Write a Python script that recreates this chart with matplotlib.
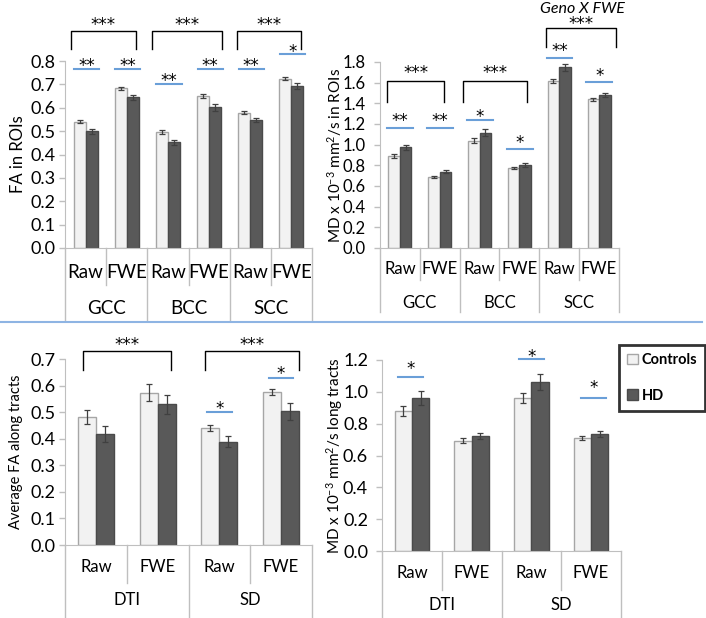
import matplotlib
matplotlib.use('Agg')
import matplotlib.pyplot as plt
import matplotlib.transforms as mtransforms
from matplotlib.lines import Line2D
from matplotlib.patches import Patch
import numpy as np

plt.rcParams['font.family'] = ['Lato', 'DejaVu Sans']
plt.rcParams['mathtext.default'] = 'regular'

# ---- data ----
sub_labels = ['Raw', 'FWE']
roi_groups = ['GCC', 'BCC', 'SCC']
tract_groups = ['DTI', 'SD']

fa_roi_ctrl = [0.540, 0.683, 0.496, 0.649, 0.579, 0.725]
fa_roi_hd = [0.500, 0.644, 0.452, 0.602, 0.547, 0.694]
fa_roi_ctrl_err = [0.007, 0.007, 0.008, 0.008, 0.006, 0.005]
fa_roi_hd_err = [0.011, 0.012, 0.012, 0.015, 0.010, 0.014]

md_roi_ctrl = [0.890, 0.690, 1.040, 0.775, 1.620, 1.440]
md_roi_hd = [0.975, 0.740, 1.115, 0.805, 1.750, 1.480]
md_roi_ctrl_err = [0.015, 0.008, 0.025, 0.010, 0.020, 0.015]
md_roi_hd_err = [0.025, 0.012, 0.035, 0.018, 0.035, 0.022]

fa_tr_ctrl = [0.482, 0.573, 0.440, 0.577]
fa_tr_hd = [0.416, 0.529, 0.389, 0.503]
fa_tr_ctrl_err = [0.027, 0.032, 0.010, 0.011]
fa_tr_hd_err = [0.030, 0.035, 0.022, 0.031]

md_tr_ctrl = [0.880, 0.694, 0.961, 0.711]
md_tr_hd = [0.961, 0.723, 1.062, 0.734]
md_tr_ctrl_err = [0.029, 0.013, 0.031, 0.014]
md_tr_hd_err = [0.043, 0.018, 0.050, 0.020]

W, H = 706, 618
BLUE = '#6A9FD8'
GRID = '#BFBFBF'

fig = plt.figure(figsize=(W / 100, H / 100), dpi=100)


def add_ax(l, r, t, b):
    # pixel box -> figure fraction
    return fig.add_axes([l / W, 1 - b / H, (r - l) / W, (b - t) / H])


def panel(box, groups, ctrl, hd, ectrl, ehd, ymax, ystep, ylabel, ylab_x,
          cat_y, grp_y, sub_bot, grp_bot, fs_tick, fs_cat, fs_ylab, pad=3, bw=0.29):
    ax = add_ax(*box)
    n = len(ctrl)
    x = np.arange(n)
    ekw = dict(ecolor='#404040', elinewidth=0.9, capsize=2.5, capthick=0.9)
    ax.bar(x - bw / 2, ctrl, bw, yerr=ectrl, color='#F2F2F2', edgecolor='#A6A6A6',
           linewidth=1, error_kw=ekw, zorder=2)
    ax.bar(x + bw / 2, hd, bw, yerr=ehd, color='#595959', edgecolor='#4A4A4A',
           linewidth=1, error_kw=ekw, zorder=2)
    ax.set_xlim(-0.5, n - 0.5)
    ax.set_ylim(0, ymax)
    ax.set_yticks(np.arange(0, ymax + 1e-9, ystep))
    ax.yaxis.set_major_formatter('{x:.1f}')
    ax.set_xticks([])
    for s in ['top', 'right']:
        ax.spines[s].set_visible(False)
    for s in ['left', 'bottom']:
        ax.spines[s].set_color(GRID)
    ax.tick_params(axis='y', colors=GRID, labelcolor='black', labelsize=fs_tick,
                   length=4, width=1, pad=pad)
    ax.patch.set_visible(False)

    # multi-level category axis drawn below the plot
    tr = mtransforms.blended_transform_factory(ax.transData, fig.transFigure)
    y0 = 1 - box[3] / H
    for g in range(len(groups)):
        xl = 2 * g - 0.5
        fig.add_artist(Line2D([xl, xl], [y0, 1 - grp_bot / H], transform=tr, color=GRID, lw=1))
        fig.add_artist(Line2D([xl + 1, xl + 1], [y0, 1 - sub_bot / H], transform=tr, color=GRID, lw=1))
        fig.text(2 * g + 0.5, 1 - grp_y / H, groups[g], transform=tr, ha='center',
                 va='center', fontsize=fs_cat)
        for k in range(2):
            fig.text(2 * g + k, 1 - cat_y / H, sub_labels[k], transform=tr, ha='center',
                     va='center', fontsize=fs_cat)
    xr = n - 0.5
    fig.add_artist(Line2D([xr, xr], [y0, 1 - grp_bot / H], transform=tr, color=GRID, lw=1))

    fig.text(ylab_x / W, 1 - (box[2] + box[3]) / 2 / H, ylabel, rotation=90,
             ha='center', va='center', fontsize=fs_ylab)
    return ax


def stars(ax, x, y, s, fs):
    # y is where the middle of the asterisks should sit
    ax.annotate(s, (x, y), xytext=(0, -0.58 * fs), textcoords='offset points',
                ha='center', va='baseline', fontsize=fs, family='DejaVu Sans',
                annotation_clip=False)


def sig(ax, i, y_line, y_text, s, dl=0.3, dr=0.3, fs=12):
    ax.plot([i - dl, i + dr], [y_line, y_line], color=BLUE, lw=1.5, clip_on=False)
    stars(ax, i + (dr - dl) / 2, y_text, s, fs)


def bracket(ax, x0, x1, y_top, y_leg, y_text, fs=12):
    ax.plot([x0, x0, x1, x1], [y_leg, y_top, y_top, y_leg], color='black', lw=1,
            clip_on=False, solid_joinstyle='round')
    stars(ax, (x0 + x1) / 2, y_text, '***', fs)


# top-left: FA in ROIs
ax1 = panel((65, 312, 61, 248), roi_groups, fa_roi_ctrl, fa_roi_hd,
            fa_roi_ctrl_err, fa_roi_hd_err, 0.8, 0.1, 'FA in ROIs', 18,
            273, 309, 285, 320, 13, 13.5, 12)
for i, yl, yt, st in [(0, 0.767, 0.80, '**'), (1, 0.767, 0.80, '**'), (2, 0.70, 0.733, '**'),
                      (3, 0.767, 0.80, '**'), (4, 0.767, 0.80, '**'), (5, 0.83, 0.857, '*')]:
    sig(ax1, i, yl, yt, st, 0.28, 0.33, 12)
for x0, x1 in [(-0.35, 1.22), (1.61, 3.31), (3.67, 5.23)]:
    bracket(ax1, x0, x1, 0.93, 0.85, 0.973, 12)

# top-right: MD in ROIs
ax2 = panel((380, 619, 62, 248), roi_groups, md_roi_ctrl, md_roi_hd,
            md_roi_ctrl_err, md_roi_hd_err, 1.8, 0.2,
            'MD x 10$^{-3}$ mm$^{2}$/s in ROIs', 335,
            269, 303, 280, 312, 12, 12, 11, pad=6)
for i, yl, yt, st in [(0, 1.163, 1.27, '**'), (1, 1.163, 1.27, '**'), (2, 1.24, 1.31, '*'),
                      (3, 0.96, 1.06, '*'), (4, 1.84, 1.95, '**'), (5, 1.61, 1.71, '*')]:
    sig(ax2, i, yl, yt, st, 0.32, 0.33, 12)
bracket(ax2, -0.32, 1.11, 1.62, 1.415, 1.74)
bracket(ax2, 1.59, 3.19, 1.62, 1.415, 1.74)
bracket(ax2, 3.67, 5.43, 2.13, 1.95, 2.21)
ax2.text(4.57, 2.31, 'Geno X FWE', style='italic', ha='center', va='center',
         fontsize=11.5, clip_on=False)

# bottom-left: FA along tracts
ax3 = panel((65, 312, 359, 545), tract_groups, fa_tr_ctrl, fa_tr_hd,
            fa_tr_ctrl_err, fa_tr_hd_err, 0.7, 0.1, 'Average FA along tracts', 16,
            567, 600, 583, 618, 13, 12, 10.5, pad=3)
sig(ax3, 2, 0.50, 0.53, '*', 0.2, 0.2, 12)
sig(ax3, 3, 0.63, 0.66, '*', 0.2, 0.2, 12)
bracket(ax3, -0.21, 1.22, 0.731, 0.66, 0.77)
bracket(ax3, 1.77, 3.29, 0.731, 0.66, 0.77)

# bottom-right: MD along tracts
ax4 = panel((382, 621, 360, 551), tract_groups, md_tr_ctrl, md_tr_hd,
            md_tr_ctrl_err, md_tr_hd_err, 1.2, 0.2,
            'MD x 10$^{-3}$ mm$^{2}$/s long tracts', 335,
            573, 605, 590, 618, 13, 12, 11, pad=6)
sig(ax4, 0, 1.093, 1.17, '*', 0.23, 0.19, 12)
sig(ax4, 2, 1.206, 1.25, '*', 0.21, 0.21, 12)
sig(ax4, 3, 0.96, 1.055, '*', 0.17, 0.25, 12)

# separator between the two rows
fig.add_artist(Line2D([0, 702 / W], [1 - 322 / H, 1 - 322 / H], color='#8EB4E3', lw=1.5))

handles = [Patch(facecolor='#F2F2F2', edgecolor='#A6A6A6', label='Controls'),
           Patch(facecolor='#595959', edgecolor='#4A4A4A', label='HD')]
leg = fig.legend(handles=handles, loc='upper left', bbox_to_anchor=(619 / W, 1 - 345 / H),
                 frameon=True, fancybox=False, edgecolor='black',
                 prop={'weight': 'bold', 'size': 10.5}, labelspacing=1.5,
                 handlelength=0.75, handleheight=0.75, handletextpad=0.25,
                 borderpad=0.55, borderaxespad=0)
leg.get_frame().set_linewidth(2)

fig.savefig('out.png', dpi=100)
